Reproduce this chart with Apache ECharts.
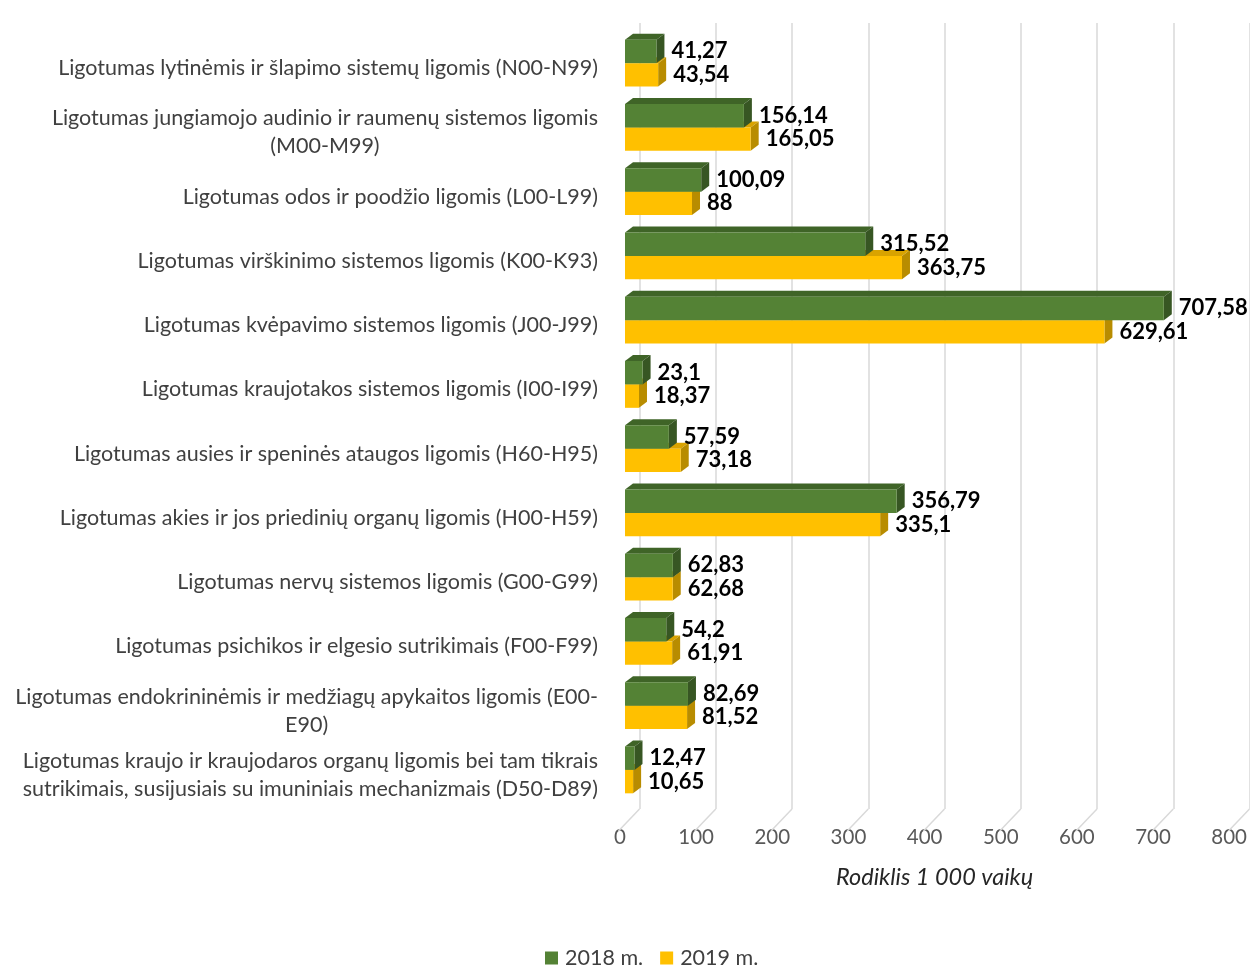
<!DOCTYPE html>
<html>
<head>
<meta charset="utf-8">
<script src="https://cdn.jsdelivr.net/npm/echarts@6/dist/echarts.min.js"></script>
<style>html,body{margin:0;padding:0;background:#fff}#c{width:1250px;height:965px}</style>
</head>
<body>
<div id="c"></div>
<script>
const categories = [
  'Ligotumas lytinėmis ir šlapimo sistemų ligomis (N00-N99)',
  'Ligotumas jungiamojo audinio ir raumenų sistemos ligomis\n(M00-M99)',
  'Ligotumas odos ir poodžio ligomis (L00-L99)',
  'Ligotumas virškinimo sistemos ligomis (K00-K93)',
  'Ligotumas kvėpavimo sistemos ligomis (J00-J99)',
  'Ligotumas kraujotakos sistemos ligomis (I00-I99)',
  'Ligotumas ausies ir speninės ataugos ligomis (H60-H95)',
  'Ligotumas akies ir jos priedinių organų ligomis (H00-H59)',
  'Ligotumas nervų sistemos ligomis (G00-G99)',
  'Ligotumas psichikos ir elgesio sutrikimais (F00-F99)',
  'Ligotumas endokrininėmis ir medžiagų apykaitos ligomis (E00-\nE90)',
  'Ligotumas kraujo ir kraujodaros organų ligomis bei tam tikrais\nsutrikimais, susijusiais su imuniniais mechanizmais (D50-D89)'
];
const values2018 = [41.27, 156.14, 100.09, 315.52, 707.58, 23.1, 57.59, 356.79, 62.83, 54.2, 82.69, 12.47];
const values2019 = [43.54, 165.05, 88, 363.75, 629.61, 18.37, 73.18, 335.1, 62.68, 61.91, 81.52, 10.65];
const seriesNames = ['2018 m.', '2019 m.'];
const xTicks = [0, 100, 200, 300, 400, 500, 600, 700, 800];
const axisTitle = 'Rodiklis 1 000 vaikų';

const FONT = 'Lato, "Open Sans", sans-serif';
const DX = 8, DY = -6;

function fmt(v) { return String(v).replace('.', ','); }

function makeRender(isFirst, front, topC, sideC) {
  return function (params, api) {
    const val = api.value(0), cat = api.value(1);
    const p0 = api.coord([0, cat]);
    const p1 = api.coord([val, cat]);
    const band = api.size([0, 1])[1];
    const h = band * 0.365;
    const cy = p0[1] - 5;
    const top = isFirst ? cy - h : cy;
    const x0 = p0[0], x1 = p1[0];
    return {
      type: 'group',
      children: [
        { type: 'polygon', shape: { points: [[x0, top], [x1, top], [x1 + DX, top + DY], [x0 + DX, top + DY]] }, style: { fill: topC } },
        { type: 'polygon', shape: { points: [[x1, top], [x1 + DX, top + DY], [x1 + DX, top + h + DY], [x1, top + h]] }, style: { fill: sideC } },
        { type: 'rect', shape: { x: x0, y: top, width: x1 - x0, height: h }, style: { fill: front } },
        { type: 'text', x: x1 + 15, y: top + h / 2, style: { text: fmt(val), fill: '#000', font: 'bold 22px ' + FONT, textAlign: 'left', textVerticalAlign: 'middle' } }
      ]
    };
  };
}

const chart = echarts.init(document.getElementById('c'));
chart.setOption({
  animation: false,
  legend: {
    top: 942, left: 540,
    icon: 'rect',
    itemWidth: 13, itemHeight: 13, itemGap: 17,
    textStyle: { fontSize: 21.5, color: '#404040', fontFamily: FONT, padding: [0, 0, 0, 2] },
    data: seriesNames
  },
  grid: [
    { left: 625, width: 610, top: 36, height: 771 },
    { left: 639.5, width: 610, top: 23, height: 786 }
  ],
  xAxis: [
    {
      gridIndex: 0, type: 'value', min: 0, max: 800, interval: 100,
      axisLine: { show: false }, axisTick: { show: false }, splitLine: { show: false },
      axisLabel: { fontSize: 20.5, color: '#595959', fontFamily: FONT, margin: 20, padding: [0, 10, 0, 0],
        formatter: v => xTicks.indexOf(v) >= 0 ? String(v) : '' },
      name: axisTitle, nameLocation: 'middle', nameGap: 59,
      nameTextStyle: { fontSize: 23.5, fontStyle: 'italic', color: '#262626', fontFamily: FONT, padding: [0, 0, 0, 10] }
    },
    {
      gridIndex: 1, type: 'value', min: 0, max: 800, interval: 100,
      axisLine: { show: false }, axisTick: { show: false }, axisLabel: { show: false },
      splitLine: { show: true, lineStyle: { color: '#d9d9d9', width: 1.5 } }
    }
  ],
  yAxis: [
    {
      gridIndex: 0, type: 'category', data: categories, inverse: true,
      axisLine: { show: false }, axisTick: { show: false }, splitLine: { show: false },
      axisLabel: {
        margin: 27, align: 'right',
        formatter: v => v.split('\n').map(s => '{c|' + s + '}').join('\n'),
        rich: { c: { fontSize: 21.5, color: '#404040', fontFamily: FONT, lineHeight: 28, align: 'center' } }
      }
    },
    { gridIndex: 1, type: 'value', min: 0, max: 1, show: false }
  ],
  series: [
    {
      name: seriesNames[0], type: 'custom', xAxisIndex: 0, yAxisIndex: 0, z: 4,
      itemStyle: { color: '#548235' },
      renderItem: makeRender(true, '#548235', '#3f6427', '#375623'),
      data: values2018.map((v, i) => [v, i])
    },
    {
      name: seriesNames[1], type: 'custom', xAxisIndex: 0, yAxisIndex: 0, z: 3,
      itemStyle: { color: '#FFC000' },
      renderItem: makeRender(false, '#FFC000', '#d9a300', '#b88c00'),
      data: values2019.map((v, i) => [v, i])
    },
    {
      name: 'floor', type: 'custom', xAxisIndex: 1, yAxisIndex: 1, z: 1, silent: true,
      renderItem: function (params, api) {
        const p = api.coord([api.value(0), 0]);
        return { type: 'line', shape: { x1: p[0], y1: p[1], x2: p[0] - 21, y2: p[1] + 22 }, style: { stroke: '#d9d9d9', lineWidth: 1.5 } };
      },
      data: xTicks.map(v => [v])
    }
  ]
});
</script>
</body>
</html>
